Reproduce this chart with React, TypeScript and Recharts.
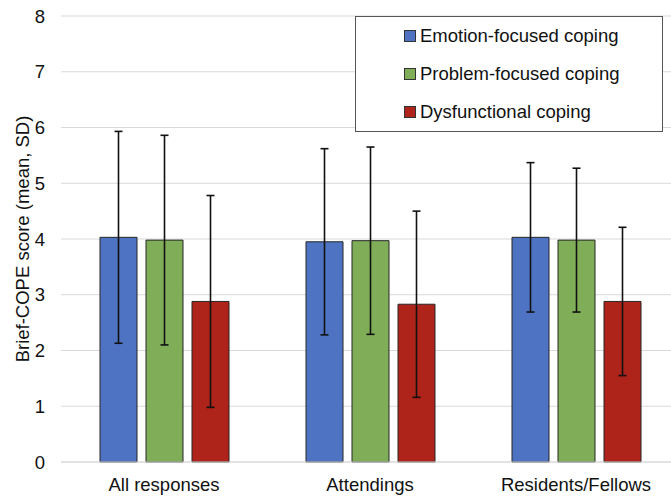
import React from 'react';
import {
  BarChart,
  Bar,
  XAxis,
  YAxis,
  CartesianGrid,
  Legend,
  ErrorBar,
  Label
} from 'recharts';

const groups = ['All responses', 'Attendings', 'Residents/Fellows'];
const seriesNames = ['Emotion-focused coping', 'Problem-focused coping', 'Dysfunctional coping'];
const seriesColors = ['#4E73C2', '#80AD57', '#AE231A'];

const emotionMean = [4.03, 3.95, 4.03];
const emotionSd = [1.9, 1.67, 1.34];
const problemMean = [3.98, 3.97, 3.98];
const problemSd = [1.88, 1.68, 1.29];
const dysfunctionalMean = [2.88, 2.83, 2.88];
const dysfunctionalSd = [1.9, 1.67, 1.33];

const yTicks = [0, 1, 2, 3, 4, 5, 6, 7, 8];

const data = groups.map((name, i) => ({
  name,
  emotion: emotionMean[i],
  emotionSd: emotionSd[i],
  problem: problemMean[i],
  problemSd: problemSd[i],
  dysfunctional: dysfunctionalMean[i],
  dysfunctionalSd: dysfunctionalSd[i]
}));

const keys = ['emotion', 'problem', 'dysfunctional'];

const FONT = '"Liberation Sans", Arial, sans-serif';

// legend keeps the series order (recharts would sort it by name)
const renderLegend = () => (
  <div
    style={{
      boxSizing: 'border-box',
      width: '100%',
      height: '100%',
      background: '#fff',
      border: '1px solid #555',
      fontFamily: FONT,
      fontSize: 18.5,
      color: '#111'
    }}
  >
    {seriesNames.map((name, i) => (
      <div
        key={`legend-${i}`}
        style={{ display: 'flex', alignItems: 'center', height: 38, paddingLeft: 48 }}
      >
        <span
          style={{
            display: 'inline-block',
            width: 10,
            height: 10,
            background: seriesColors[i],
            border: '1px solid #333',
            marginRight: 4
          }}
        />
        <span>{name}</span>
      </div>
    ))}
  </div>
);

const renderYLabel = (props: any) => {
  const { viewBox } = props;
  const cx = (viewBox?.x ?? 0) + 22;
  const cy = (viewBox?.y ?? 16) + (viewBox?.height ?? 446) / 2;
  return (
    <text
      x={cx}
      y={cy}
      transform={`rotate(-90 ${cx} ${cy})`}
      textAnchor="middle"
      dominantBaseline="central"
      fontFamily={FONT}
      fontSize={18.5}
      fill="#111"
    >
      Brief-COPE score (mean, SD)
    </text>
  );
};

export default function App() {
  return (
    <div
      style={{
        position: 'absolute',
        left: 0,
        top: 0,
        width: 671,
        height: 496,
        overflow: 'hidden',
        background: '#fff'
      }}
    >
      <BarChart
        width={680}
        height={496}
        data={data}
        margin={{ top: 16, right: 1, left: 0, bottom: 0 }}
        barSize={37}
        barGap={9}
      >
        <CartesianGrid vertical={false} stroke="#d9d9d9" strokeWidth={1} />
        <XAxis
          dataKey="name"
          height={34}
          tickLine={false}
          tickSize={0}
          tickMargin={16}
          axisLine={{ stroke: '#d9d9d9' }}
          tick={{ fill: '#111', fontSize: 18.5, fontFamily: FONT }}
        />
        <YAxis
          width={61}
          domain={[0, 8]}
          ticks={yTicks}
          interval={0}
          axisLine={false}
          tickLine={false}
          tickSize={0}
          tickMargin={16}
          tick={{ fill: '#111', fontSize: 18.5, fontFamily: FONT }}
        >
          <Label content={renderYLabel} />
        </YAxis>
        <Legend
          layout="horizontal"
          verticalAlign="middle"
          align="center"
          content={renderLegend}
          wrapperStyle={{ left: 355, top: 16, width: 308, height: 116 }}
        />
        {keys.map((k, i) => (
          <Bar
            key={k}
            dataKey={k}
            name={seriesNames[i]}
            fill={seriesColors[i]}
            stroke="#262626"
            strokeWidth={1}
            isAnimationActive={false}
          >
            <ErrorBar
              dataKey={`${k}Sd`}
              width={4}
              stroke="#111"
              strokeWidth={1.6}
              isAnimationActive={false}
            />
          </Bar>
        ))}
      </BarChart>
    </div>
  );
}
